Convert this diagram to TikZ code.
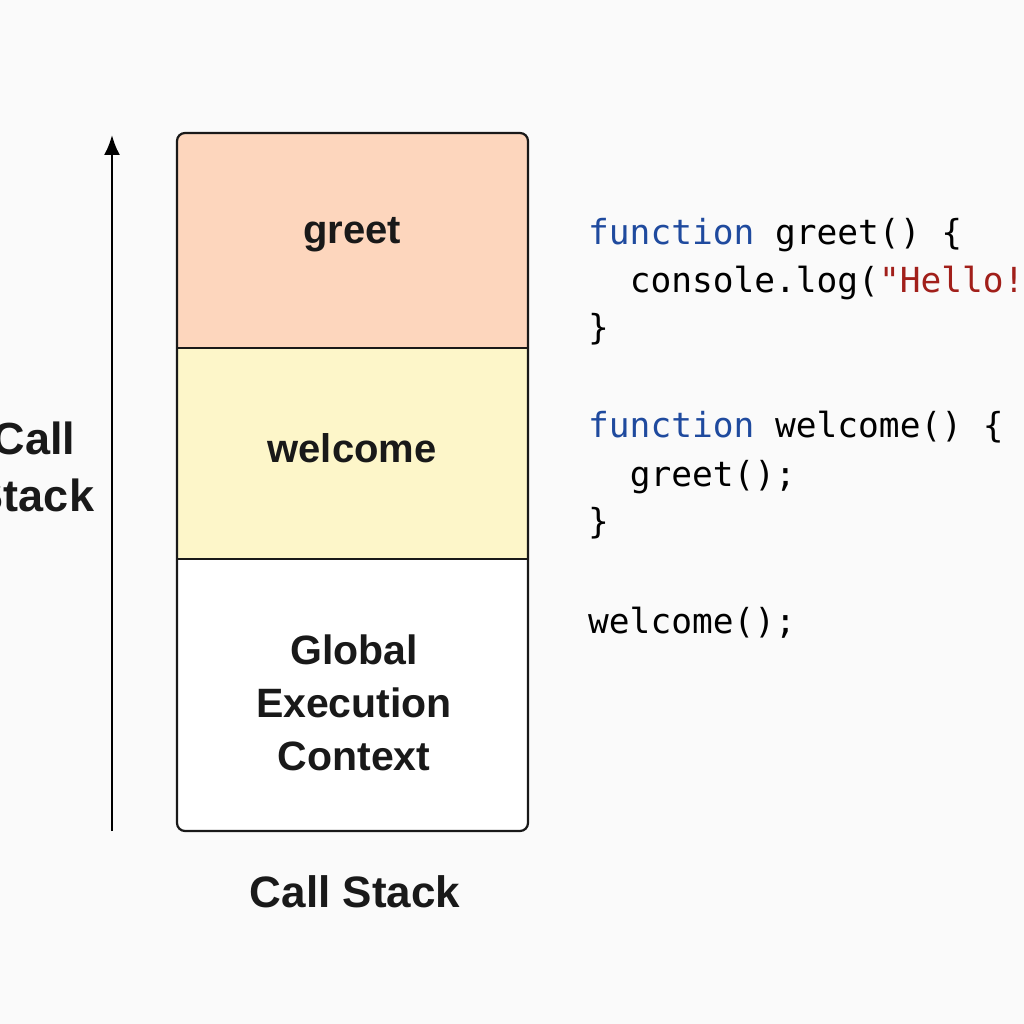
\documentclass[tikz,border=0pt]{standalone}
\usetikzlibrary{arrows.meta}
\usepackage{fontspec}
\setmainfont{Liberation Sans}
\setmonofont{DejaVu Sans Mono}
\begin{document}
\begin{tikzpicture}[x=1pt,y=-1pt,
  lab/.style={font=\fontsize{40}{46}\selectfont\bfseries,align=center,text=black!90},
  code/.style={font=\fontsize{34.5}{40}\selectfont\ttfamily,anchor=base west,inner sep=0pt},
  frame/.style={draw=black!90,line width=2.2pt}]
\definecolor{kw}{HTML}{1F4A9E}\definecolor{st}{HTML}{A11F1A}
\definecolor{gr}{HTML}{FDD6BD}\definecolor{wl}{HTML}{FDF6C9}
\clip (0,0) rectangle (1024,1024);
\fill[black!2] (0,0) rectangle (1024,1024);
\fill[gr,rounded corners=8pt] (177,133) rectangle (528,348);
\fill[gr] (177,200) rectangle (528,348);
\fill[wl] (177,348) rectangle (528,559);
\fill[white,rounded corners=8pt] (177,559) rectangle (528,831);
\fill[white] (177,559) rectangle (528,700);
\draw[frame,rounded corners=8pt] (177,133) rectangle (528,831);
\draw[frame] (177,348) -- (528,348) (177,559) -- (528,559);
\node[lab] (g) at (352,235) {greet};
\node[lab] (w) at (352,448) {welcome};
\node[lab,font=\fontsize{41}{53}\selectfont\bfseries] (gec) at (354,703) {Global\\Execution\\Context};
\node[lab,font=\fontsize{44}{52}\selectfont\bfseries] (cs) at (355,892) {Call Stack};
\node[lab,font=\fontsize{45}{57}\selectfont\bfseries] (cl) at (34,467) {Call\\Stack};
\coordinate (a1) at (112,831); \coordinate (a2) at (112,135);
\draw[line width=2.4pt,-{Latex[length=20pt,width=16pt]}] (a1) -- (a2);
\node[code] (c1) at (588,244) {\textcolor{kw}{function} greet() \{};
\node[code] (c2) at (588,292) {\ \ console.log(\textcolor{st}{"Hello!"});};
\node[code] (c3) at (588,339) {\}};
\node[code] (c4) at (588,437) {\textcolor{kw}{function} welcome() \{};
\node[code] (c5) at (588,486) {\ \ greet();};
\node[code] (c6) at (588,533) {\}};
\node[code] (c7) at (588,633) {welcome();};
\end{tikzpicture}
\end{document}
